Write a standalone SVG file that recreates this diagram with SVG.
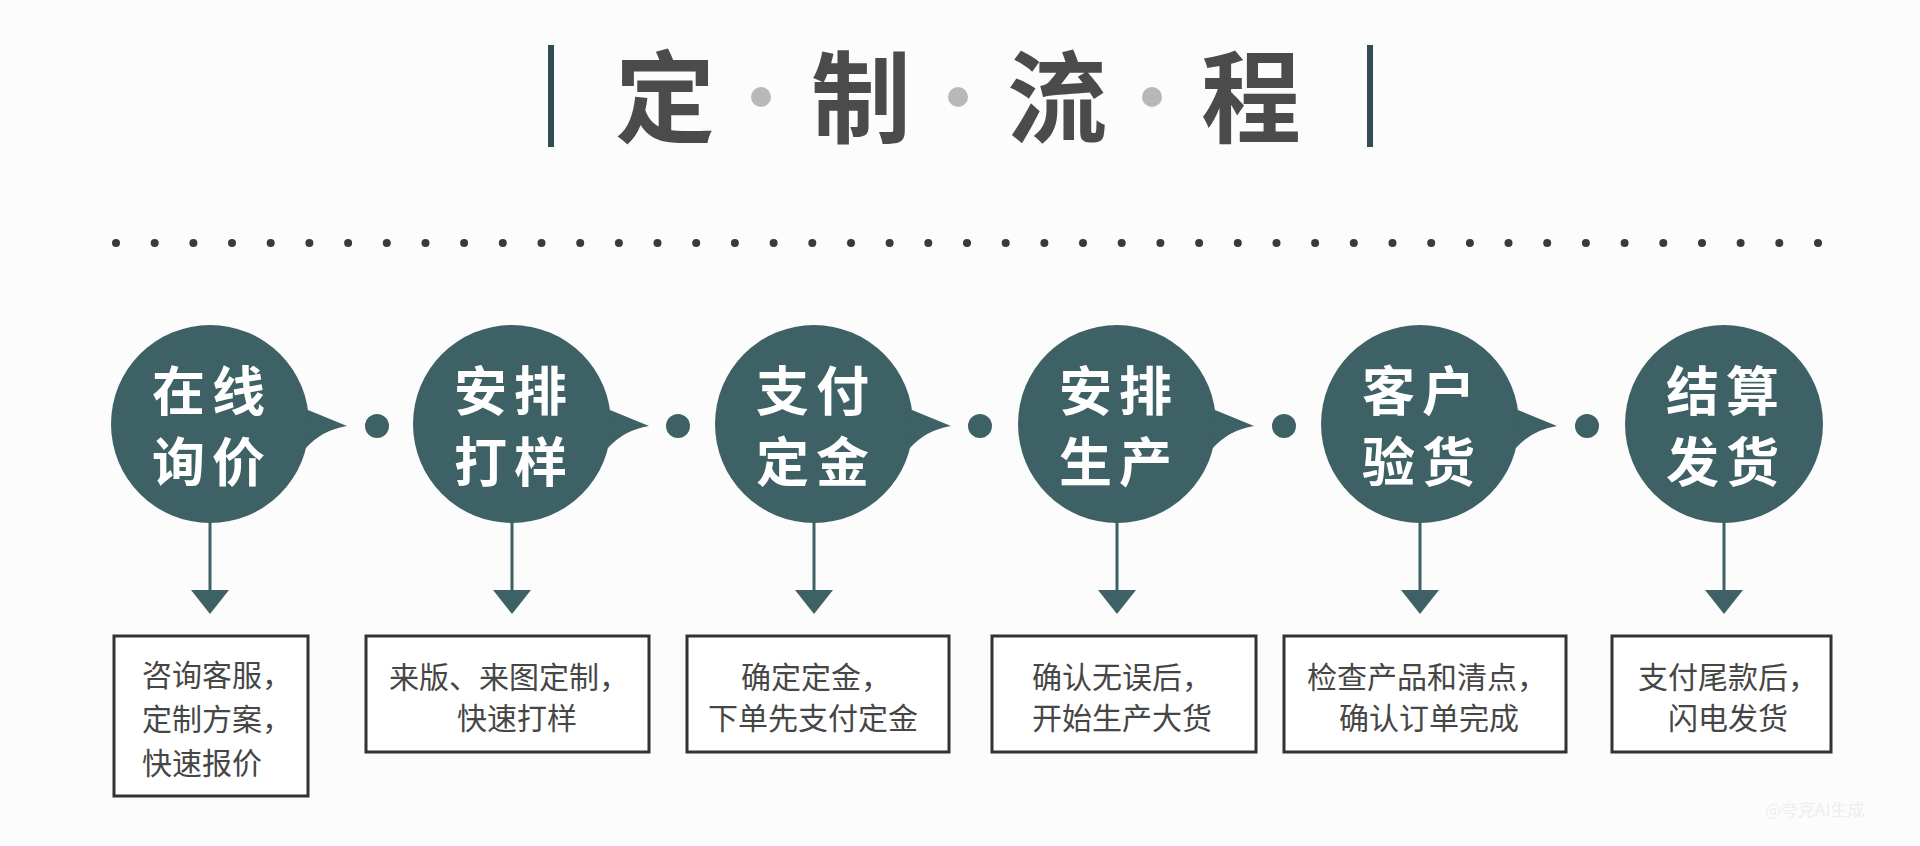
<svg xmlns="http://www.w3.org/2000/svg" width="1920" height="846" viewBox="0 0 1920 846">
<defs>
<style>
.title{font-family:"Noto Sans CJK SC","Noto Sans",sans-serif;font-weight:700;font-size:100px;fill:#4b4b4b;text-anchor:middle}
.bar{fill:#2f4d52}
.tdot{fill:#b8b8b8}
.dline{fill:#3a3a3a}
.bubble{fill:#3e6165}
.ctext{font-family:"Noto Sans CJK SC","Noto Sans",sans-serif;font-weight:700;font-size:53px;fill:#ffffff;text-anchor:middle;letter-spacing:7px}
.sep{fill:#3e6165}
.conn{stroke:#3e6165;stroke-width:3;fill:none}
.box{fill:#ffffff;stroke:#333333;stroke-width:3}
.btext{font-family:"Noto Sans CJK SC","Noto Sans",sans-serif;font-weight:400;font-size:30px;fill:#464646}
.wm{font-family:"Noto Sans CJK SC","Noto Sans",sans-serif;font-size:17px;fill:#eeeeee}
</style>
<marker id="arrow" viewBox="0 -19 24 38" markerWidth="24" markerHeight="38" refX="0" refY="0" orient="auto" markerUnits="userSpaceOnUse">
<path d="M0,-19 L24,0 L0,19 Z" fill="#3e6165"/>
</marker>
<path id="ptr" d="M98,-14 L137,2 Q112,6 96,24 Z"/>
</defs>
<rect width="1920" height="846" fill="#fcfcfc"/>

<g id="title">
<rect class="bar" x="548" y="45" width="6" height="102"/>
<rect class="bar" x="1367" y="45" width="6" height="102"/>
<circle class="tdot" cx="761" cy="97" r="10"/>
<circle class="tdot" cx="958" cy="97" r="10"/>
<circle class="tdot" cx="1152" cy="97" r="10"/>
<text class="title" x="665 861 1057 1251" y="135">定制流程</text>
</g>

<g id="dotted-rule" class="dline">
<circle cx="116" cy="243" r="4"/><circle cx="154.7" cy="243" r="4"/><circle cx="193.4" cy="243" r="4"/><circle cx="232" cy="243" r="4"/><circle cx="270.7" cy="243" r="4"/><circle cx="309.4" cy="243" r="4"/><circle cx="348.1" cy="243" r="4"/><circle cx="386.8" cy="243" r="4"/><circle cx="425.5" cy="243" r="4"/><circle cx="464.1" cy="243" r="4"/><circle cx="502.8" cy="243" r="4"/><circle cx="541.5" cy="243" r="4"/><circle cx="580.2" cy="243" r="4"/><circle cx="618.9" cy="243" r="4"/><circle cx="657.5" cy="243" r="4"/><circle cx="696.2" cy="243" r="4"/><circle cx="734.9" cy="243" r="4"/><circle cx="773.6" cy="243" r="4"/><circle cx="812.3" cy="243" r="4"/><circle cx="851" cy="243" r="4"/><circle cx="889.6" cy="243" r="4"/><circle cx="928.3" cy="243" r="4"/><circle cx="967" cy="243" r="4"/><circle cx="1005.7" cy="243" r="4"/><circle cx="1044.4" cy="243" r="4"/><circle cx="1083" cy="243" r="4"/><circle cx="1121.7" cy="243" r="4"/><circle cx="1160.4" cy="243" r="4"/><circle cx="1199.1" cy="243" r="4"/><circle cx="1237.8" cy="243" r="4"/><circle cx="1276.5" cy="243" r="4"/><circle cx="1315.1" cy="243" r="4"/><circle cx="1353.8" cy="243" r="4"/><circle cx="1392.5" cy="243" r="4"/><circle cx="1431.2" cy="243" r="4"/><circle cx="1469.9" cy="243" r="4"/><circle cx="1508.5" cy="243" r="4"/><circle cx="1547.2" cy="243" r="4"/><circle cx="1585.9" cy="243" r="4"/><circle cx="1624.6" cy="243" r="4"/><circle cx="1663.3" cy="243" r="4"/><circle cx="1702" cy="243" r="4"/><circle cx="1740.6" cy="243" r="4"/><circle cx="1779.3" cy="243" r="4"/><circle cx="1818" cy="243" r="4"/>
</g>

<g id="connectors">
<line class="conn" x1="210" y1="522" x2="210" y2="590" marker-end="url(#arrow)"/>
<line class="conn" x1="512" y1="522" x2="512" y2="590" marker-end="url(#arrow)"/>
<line class="conn" x1="814" y1="522" x2="814" y2="590" marker-end="url(#arrow)"/>
<line class="conn" x1="1117" y1="522" x2="1117" y2="590" marker-end="url(#arrow)"/>
<line class="conn" x1="1420" y1="522" x2="1420" y2="590" marker-end="url(#arrow)"/>
<line class="conn" x1="1724" y1="522" x2="1724" y2="590" marker-end="url(#arrow)"/>
<circle class="sep" cx="377" cy="426" r="12"/>
<circle class="sep" cx="678" cy="426" r="12"/>
<circle class="sep" cx="980" cy="426" r="12"/>
<circle class="sep" cx="1284" cy="426" r="12"/>
<circle class="sep" cx="1587" cy="426" r="12"/>
</g>

<g id="step1" transform="translate(210,424)">
<circle class="bubble" r="99"/><use href="#ptr" class="bubble"/>
<text class="ctext" x="2" y="-13">在线</text><text class="ctext" x="2" y="58">询价</text>
</g>
<g id="step2" transform="translate(512,424)">
<circle class="bubble" r="99"/><use href="#ptr" class="bubble"/>
<text class="ctext" x="2" y="-13">安排</text><text class="ctext" x="2" y="58">打样</text>
</g>
<g id="step3" transform="translate(814,424)">
<circle class="bubble" r="99"/><use href="#ptr" class="bubble"/>
<text class="ctext" x="2" y="-13">支付</text><text class="ctext" x="2" y="58">定金</text>
</g>
<g id="step4" transform="translate(1117,424)">
<circle class="bubble" r="99"/><use href="#ptr" class="bubble"/>
<text class="ctext" x="2" y="-13">安排</text><text class="ctext" x="2" y="58">生产</text>
</g>
<g id="step5" transform="translate(1420,424)">
<circle class="bubble" r="99"/><use href="#ptr" class="bubble"/>
<text class="ctext" x="2" y="-13">客户</text><text class="ctext" x="2" y="58">验货</text>
</g>
<g id="step6" transform="translate(1724,424)">
<circle class="bubble" r="99"/>
<text class="ctext" x="2" y="-13">结算</text><text class="ctext" x="2" y="58">发货</text>
</g>

<g id="desc1">
<rect class="box" x="114" y="636" width="194" height="160"/>
<text class="btext" x="142" y="686">咨询客服，</text>
<text class="btext" x="142" y="730">定制方案，</text>
<text class="btext" x="142" y="774">快速报价</text>
</g>
<g id="desc2">
<rect class="box" x="366" y="636" width="283" height="116"/>
<text class="btext" x="389" y="688">来版、来图定制，</text>
<text class="btext" x="457" y="729">快速打样</text>
</g>
<g id="desc3">
<rect class="box" x="687" y="636" width="262" height="116"/>
<text class="btext" x="741" y="688">确定定金，</text>
<text class="btext" x="708" y="729">下单先支付定金</text>
</g>
<g id="desc4">
<rect class="box" x="992" y="636" width="264" height="116"/>
<text class="btext" x="1032" y="688">确认无误后，</text>
<text class="btext" x="1032" y="729">开始生产大货</text>
</g>
<g id="desc5">
<rect class="box" x="1284" y="636" width="282" height="116"/>
<text class="btext" x="1307" y="688">检查产品和清点，</text>
<text class="btext" x="1339" y="729">确认订单完成</text>
</g>
<g id="desc6">
<rect class="box" x="1612" y="636" width="219" height="116"/>
<text class="btext" x="1638" y="688">支付尾款后，</text>
<text class="btext" x="1668" y="729">闪电发货</text>
</g>

<text class="wm" x="1765" y="816">@夸克AI生成</text>
</svg>
